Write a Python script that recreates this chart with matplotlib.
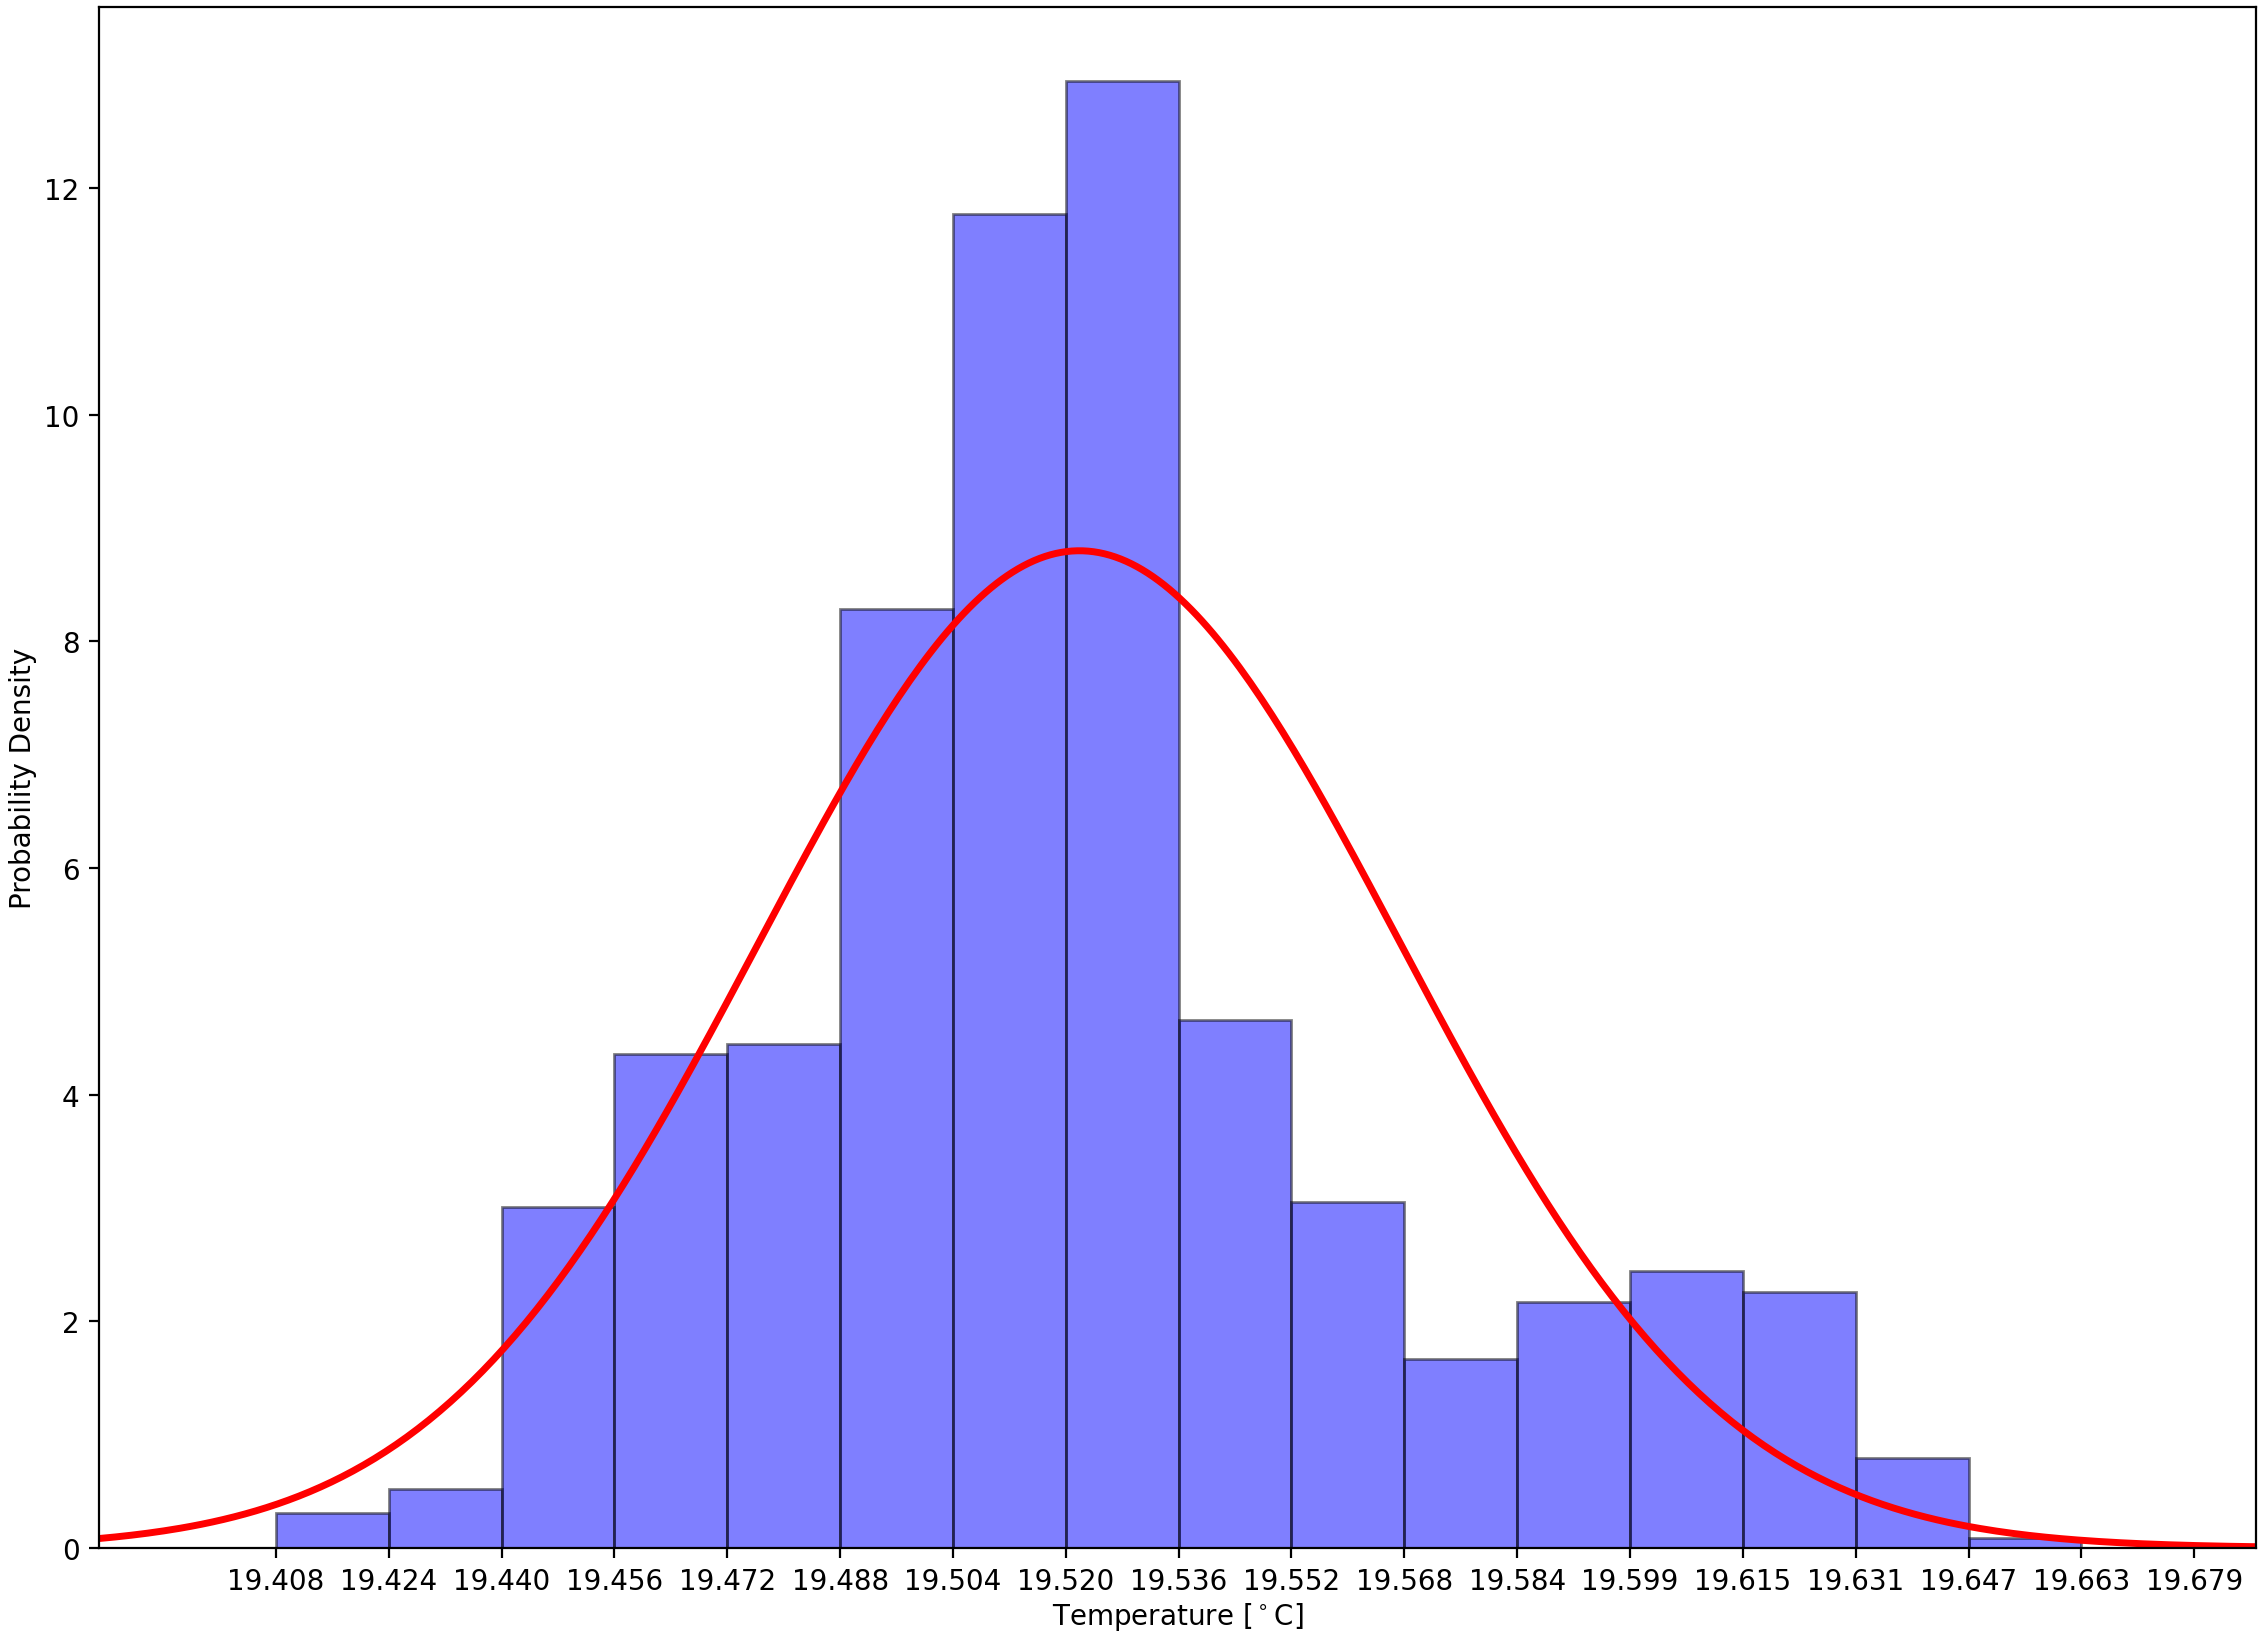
import numpy as np
import matplotlib
matplotlib.use("Agg")
import matplotlib.pyplot as plt

# bin edges (as shown on the x ticks) and density of each bin
edges = [19.4082, 19.42414, 19.44008, 19.45602, 19.47196, 19.4879, 19.50384,
         19.51978, 19.53572, 19.55166, 19.5676, 19.58354, 19.59948, 19.61542,
         19.63136, 19.6473, 19.66324, 19.67918]
density = [0.305, 0.52, 3.01, 4.36, 4.45, 8.29, 11.77, 12.95, 4.66, 3.05,
           1.665, 2.17, 2.44, 2.26, 0.79, 0.09, 0.0]

# fitted normal distribution
mu = 19.5217
sigma = 0.04533

x_min, x_max = 19.3832, 19.6879

fig = plt.figure(figsize=(11.29, 8.165), dpi=200)
ax = fig.add_axes([0.0438, 0.0515, 0.9553, 0.9436])

edges = np.array(edges)
ax.bar(edges[:-1], density, width=np.diff(edges), align="edge",
       color="blue", alpha=0.5, edgecolor="black", linewidth=1)

x = np.linspace(x_min, x_max, 400)
pdf = np.exp(-0.5 * ((x - mu) / sigma) ** 2) / (sigma * np.sqrt(2 * np.pi))
ax.plot(x, pdf, color="red", linewidth=2.5)

ax.set_xticks(edges)
ax.set_xticklabels(["%.3f" % e for e in edges])
ax.set_xlim(x_min, x_max)
ax.set_ylim(0, 13.6)
ax.set_yticks([0, 2, 4, 6, 8, 10, 12])

ax.set_xlabel("Temperature [$^\\circ$C]", labelpad=1.5)
ax.set_ylabel("Probability Density", labelpad=2.5)

fig.savefig("out.png", dpi=200)
